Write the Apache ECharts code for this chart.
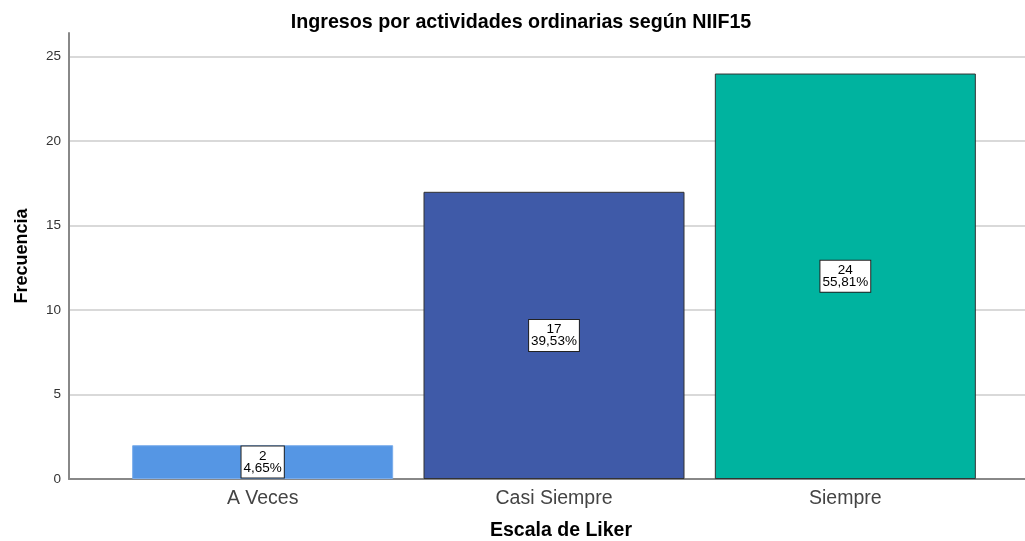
<!DOCTYPE html>
<html>
<head>
    <meta charset="utf-8">
    <style>
        body { margin: 0; background-color: #fff; }
        #main { width: 1025px; height: 541px; }
    </style>
    <script src="https://cdn.jsdelivr.net/npm/echarts@6/dist/echarts.min.js"></script>
</head>
<body>
    <div id="main"></div>
    <script type="text/javascript">
        var categories = ['A Veces', 'Casi Siempre', 'Siempre'];
        var counts = [2, 17, 24];
        var percents = ['4,65%', '39,53%', '55,81%'];
        var barColors = ['#5596e4', '#3f5aa8', '#00b39f'];
        var barBorders = ['#7aaceb', '#333333', '#333333'];

        var myChart = echarts.init(document.getElementById('main'));

        var font = 'Arial, "Liberation Sans", Helvetica, sans-serif';

        var option = {
            backgroundColor: '#fff',
            animation: false,
            title: {
                text: 'Ingresos por actividades ordinarias según NIIF15',
                left: 516,
                textAlign: 'center',
                top: 8,
                textStyle: { fontFamily: font, fontSize: 19.7, fontWeight: 'bold', color: '#000' }
            },
            grid: [
                // axis frame + gridlines
                { left: 69, right: 0, top: 33, bottom: 62, outerBoundsMode: 'none' },
                // bars
                { left: 117, right: 34, top: 33, bottom: 62, outerBoundsMode: 'none' }
            ],
            xAxis: [
                {
                    gridIndex: 0,
                    type: 'value',
                    min: 0,
                    max: 1,
                    axisLine: { show: true, lineStyle: { color: '#888', width: 2 } },
                    axisTick: { show: false },
                    axisLabel: { show: false },
                    splitLine: { show: false }
                },
                {
                    gridIndex: 1,
                    type: 'category',
                    data: categories,
                    axisLine: { show: false },
                    axisTick: { show: false },
                    axisLabel: { fontFamily: font, fontSize: 19.5, color: '#444', margin: 10 },
                    name: 'Escala de Liker',
                    nameLocation: 'middle',
                    nameGap: 42,
                    nameTextStyle: { fontFamily: font, fontSize: 19.5, fontWeight: 'bold', color: '#000', padding: [0, 0, 0, 14] }
                }
            ],
            yAxis: [
                {
                    gridIndex: 0,
                    type: 'value',
                    min: 0,
                    max: 26.4,
                    interval: 5,
                    axisLine: { show: true, lineStyle: { color: '#888', width: 2 } },
                    axisTick: { show: false },
                    axisLabel: { fontFamily: font, fontSize: 13.5, color: '#333', margin: 8, showMaxLabel: false },
                    splitLine: { show: true, showMaxLine: false, lineStyle: { color: '#d9d9d9', width: 2 } },
                    name: 'Frecuencia',
                    nameLocation: 'middle',
                    nameGap: 38,
                    nameTextStyle: { fontFamily: font, fontSize: 18, fontWeight: 'bold', color: '#000' }
                },
                {
                    gridIndex: 1,
                    type: 'value',
                    min: 0,
                    max: 26.4,
                    show: false
                }
            ],
            series: [
                {
                    type: 'bar',
                    xAxisIndex: 1,
                    yAxisIndex: 1,
                    barWidth: 261,
                    data: counts.map(function (v, i) {
                        return {
                            value: v,
                            itemStyle: { color: barColors[i], borderColor: barBorders[i], borderWidth: 1 }
                        };
                    }),
                    label: {
                        show: true,
                        position: 'inside',
                        formatter: function (p) {
                            return p.value + '\n' + percents[p.dataIndex];
                        },
                        fontFamily: font,
                        fontSize: 13.5,
                        lineHeight: 12,
                        color: '#000',
                        backgroundColor: '#fff',
                        borderColor: '#222',
                        borderWidth: 1,
                        padding: [4, 2, 3, 2],
                        align: 'center'
                    }
                }
            ]
        };

        myChart.setOption(option);
    </script>
</body>
</html>
